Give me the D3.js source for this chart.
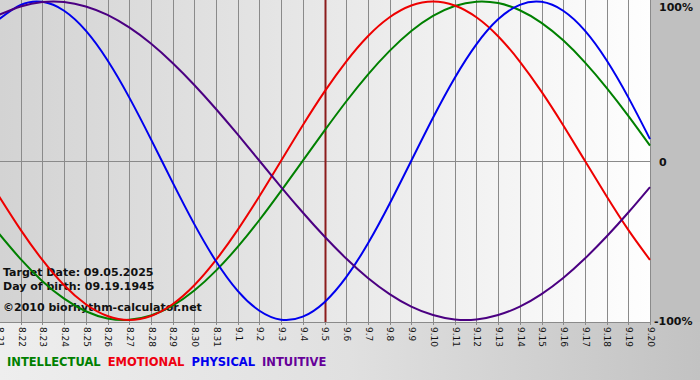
<!DOCTYPE html>
<html><head><meta charset="utf-8">
<script src="https://cdn.jsdelivr.net/npm/d3@7"></script>
<style>html,body{margin:0;padding:0;background:#fff;}svg{display:block;}</style>
</head><body>
<svg id="c" width="700" height="380"></svg>
<script>
const dayLabels = ["8.21","8.22","8.23","8.24","8.25","8.26","8.27","8.28","8.29","8.30","8.31",
  "9.1","9.2","9.3","9.4","9.5","9.6","9.7","9.8","9.9","9.10","9.11","9.12","9.13","9.14","9.15","9.16","9.17","9.18","9.19","9.20"];
const targetLabel = "9.5";
const physical = [0.888,0.979,0.998,0.942,0.817,0.631,0.398,0.136,-0.136,-0.398,-0.631,-0.817,-0.942,-0.998,-0.979,-0.888,-0.731,-0.520,-0.270,0,0.270,0.520,0.731,0.888,0.979,0.998,0.942,0.817,0.631,0.398,0.136];
const emotional = [-0.223,-0.434,-0.623,-0.782,-0.901,-0.975,-1,-0.975,-0.901,-0.782,-0.623,-0.434,-0.223,0,0.223,0.434,0.623,0.782,0.901,0.975,1,0.975,0.901,0.782,0.623,0.434,0.223,0,-0.223,-0.434,-0.623];
const intellectual = [-0.458,-0.618,-0.756,-0.866,-0.945,-0.990,-0.999,-0.972,-0.910,-0.815,-0.690,-0.541,-0.372,-0.189,0,0.189,0.372,0.541,0.690,0.815,0.910,0.972,0.999,0.990,0.945,0.866,0.756,0.618,0.458,0.282,0.095];
const intuitive = [0.916,0.969,0.997,0.997,0.969,0.916,0.837,0.736,0.614,0.476,0.325,0.165,0,-0.165,-0.325,-0.476,-0.614,-0.736,-0.837,-0.916,-0.969,-0.997,-0.997,-0.969,-0.916,-0.837,-0.736,-0.614,-0.476,-0.325,-0.165];
const seriesNames = ["INTELLECTUAL","EMOTIONAL","PHYSICAL","INTUITIVE"];
const yTickLabels = ["100%","0","-100%"];
const yTickValues = [1,0,-1];
const infoLines = ["Target Date: 09.05.2025","Day of birth: 09.19.1945","\u00A92010 biorhythm-calculator.net"];

const svg = d3.select("#c");
const W = 700, H = 380, plotR = 651, plotB = 322;
const font = "'DejaVu Sans', Verdana, sans-serif";

const defs = svg.append("defs");
const g1 = defs.append("linearGradient").attr("id","plotBg").attr("x1","0").attr("x2","1").attr("y1","0").attr("y2","0");
g1.append("stop").attr("offset","0").attr("stop-color","#d3d3d3");
g1.append("stop").attr("offset","0.5").attr("stop-color","#e8e8e8");
g1.append("stop").attr("offset","1").attr("stop-color","#fefefe");
const g2 = defs.append("linearGradient").attr("id","botBg").attr("x1","0").attr("x2","1").attr("y1","0").attr("y2","0");
g2.append("stop").attr("offset","0").attr("stop-color","#eeeeee");
g2.append("stop").attr("offset","0.5").attr("stop-color","#e0e0e0");
g2.append("stop").attr("offset","1").attr("stop-color","#c2c2c2");

svg.append("rect").attr("x",0).attr("y",0).attr("width",W).attr("height",H).attr("fill","url(#botBg)");
svg.append("rect").attr("x",plotR).attr("y",0).attr("width",W-plotR).attr("height",plotB).attr("fill","#c0c0c0");
svg.append("rect").attr("x",0).attr("y",0).attr("width",plotR).attr("height",plotB).attr("fill","url(#plotBg)");

const x = d3.scalePoint().domain(dayLabels).range([-1, 650]);
const y = d3.scaleLinear().domain([-1, 1]).range([320, 1.5]);

svg.append("g").selectAll("line").data(dayLabels).join("line")
  .attr("x1", d => Math.round(x(d)) + 0.5).attr("x2", d => Math.round(x(d)) + 0.5)
  .attr("y1", 0).attr("y2", plotB + 3)
  .attr("stroke", "#8a8a8a").attr("stroke-width", 1);
svg.append("line").attr("x1",0).attr("x2",plotR).attr("y1",Math.round(y(0))+0.5).attr("y2",Math.round(y(0))+0.5)
  .attr("stroke","#8a8a8a").attr("stroke-width",1);
svg.append("line").attr("x1",0).attr("x2",plotR).attr("y1",plotB+0.5).attr("y2",plotB+0.5)
  .attr("stroke","#8a8a8a").attr("stroke-width",1);

svg.append("line").attr("x1",Math.round(x(targetLabel))+0.5).attr("x2",Math.round(x(targetLabel))+0.5)
  .attr("y1",0).attr("y2",plotB).attr("stroke","#8b1c1c").attr("stroke-width",2);

svg.append("g").selectAll("text").data(infoLines).join("text")
  .attr("x", 3).attr("y", (d,i) => [276, 290, 311][i])
  .attr("font-family", font).attr("font-weight","bold").attr("font-size", 11).attr("fill","#111")
  .text(d => d);

const series = [
  {name:"INTELLECTUAL", values:intellectual, color:"#008000"},
  {name:"EMOTIONAL", values:emotional, color:"#ee0000"},
  {name:"PHYSICAL", values:physical, color:"#0000ee"},
  {name:"INTUITIVE", values:intuitive, color:"#4b0082"}
];
const line = d3.line().x((v,i) => x(dayLabels[i])).y(v => y(v)).curve(d3.curveNatural);
svg.append("g").selectAll("path").data(series).join("path")
  .attr("d", s => line(s.values)).attr("fill","none").attr("stroke", s => s.color).attr("stroke-width", 2);

svg.append("g").selectAll("text").data(dayLabels).join("text")
  .attr("transform", d => `translate(${x(d)+1},327) rotate(90)`)
  .attr("dy","0.35em")
  .attr("font-family", font).attr("font-size", 9).attr("fill","#111")
  .text(d => d);

svg.append("g").selectAll("text").data(yTickValues).join("text")
  .attr("x", (d,i) => i === 2 ? 654 : 659).attr("y", d => d === 1 ? 7 : y(d) + 1)
  .attr("dy","0.35em")
  .attr("font-family", font).attr("font-weight","bold").attr("font-size", 11).attr("fill","#111")
  .text((d,i) => yTickLabels[i]);

const legendColors = ["#008000","#ee0011","#0000ee","#660099"];
let lx = 7;
const lg = svg.append("g");
seriesNames.forEach((n,i) => {
  const t = lg.append("text").attr("x", lx).attr("y", 366)
    .attr("font-family", font).attr("font-weight","bold").attr("font-size", 11.5)
    .attr("fill", legendColors[i]).text(n);
  lx += t.node().getComputedTextLength() + 7;
});
</script>
</body></html>
